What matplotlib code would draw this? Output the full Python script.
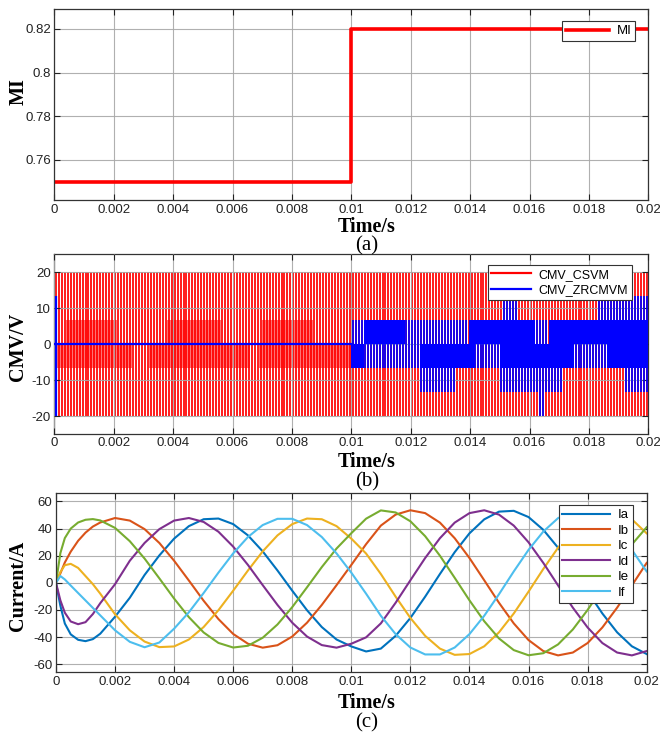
import matplotlib
matplotlib.use('Agg')
import matplotlib.pyplot as plt
import numpy as np
from matplotlib.lines import Line2D

# ---- (a) modulation index ----
mi_time = [0, 0.01, 0.02]
mi_value = [0.75, 0.82, 0.82]

# ---- (b) common-mode voltage (times in ms, levels in V) ----
sw_period = 1e-4
csvm_peak = 20
csvm_dense_upper = [(0.4, 2.1), (3.8, 5.6), (7.0, 8.7)]
csvm_dense_lower = [(0.1, 2.6), (3.2, 6.6), (6.9, 10.1)]
cmv_inner = 6.67
zr_zero_until = 10.05
zr_spike = (0.07, -20, 13.33)
zr_solid = [(10.0, 10.42, -6.67, 0), (10.42, 11.82, 0, 6.67), (12.32, 14.15, -6.67, 0),
            (13.95, 16.2, 0, 6.67), (15.02, 17.49, -6.67, 0), (16.64, 20.0, 0, 6.67),
            (18.6, 20.0, -6.67, 0)]
zr_switch = [(10.05, 10.42, 0, 6.67), (10.42, 12.32, -6.67, 0), (11.82, 13.95, 0, 6.67),
             (12.32, 13.48, -13.33, -6.67), (14.15, 15.02, -6.67, 0), (15.07, 15.6, 6.67, 13.33),
             (15.02, 17.15, -13.33, -6.67), (16.2, 16.64, 0, 6.67), (16.3, 16.55, -20, -13.33),
             (17.49, 18.6, -6.67, 0), (18.33, 20.0, 6.67, 13.33), (19.17, 20.0, -13.33, -6.67)]

# ---- (c) phase currents ----
cur_t_ms = [0, 0.15, 0.3, 0.5, 0.75, 1.0, 1.25, 1.5, 2.0, 2.5, 3.0, 3.5, 4.0, 4.5, 5.0, 5.5,
            6.0, 6.5, 7.0, 7.5, 8.0, 8.5, 9.0, 9.5, 10.0, 10.5, 11.0, 11.5, 12.0, 12.5, 13.0,
            13.5, 14.0, 14.5, 15.0, 15.5, 16.0, 16.5, 17.0, 17.5, 18.0, 18.5, 19.0, 19.5, 20.0]
ia = [0, -17, -30, -38, -42, -43, -41.5, -37.5, -25, -11, 5.8, 20.2, 32.6, 41.8, 46.9, 47.4,
      43.3, 35.0, 23.2, 9.1, -5.8, -20.2, -32.6, -41.8, -46.9, -50.6, -48.5, -39.1, -25.9, -10.2,
      6.5, 22.6, 36.5, 46.8, 52.5, 53.1, 48.5, 39.1, 25.9, 10.2, -6.5, -22.6, -36.5, -46.8, -52.5]
ib = [0, 7, 15, 23, 31, 37, 41.5, 44.5, 47.8, 45.9, 39.6, 29.4, 16.3, 1.7, -13.2, -26.7,
      -37.7, -44.9, -47.8, -46.0, -39.6, -29.4, -16.3, -1.7, 13.2, 28.5, 42.2, 50.3, 53.5, 51.4,
      44.4, 32.9, 18.3, 1.9, -14.7, -29.9, -42.2, -50.3, -53.5, -51.4, -44.4, -32.9, -18.3, -1.9, 14.7]
ic = [0, 8, 13, 14, 11, 5, -1, -8, -23.2, -35.0, -43.3, -47.4, -46.9, -41.8, -32.6, -20.2,
      -5.8, 9.1, 23.2, 35.0, 43.3, 47.4, 46.9, 41.8, 32.6, 21.6, 6.5, -10.2, -25.9, -39.1,
      -48.5, -53.1, -52.5, -46.8, -36.5, -22.6, -6.5, 10.2, 25.9, 39.1, 48.5, 53.1, 52.5, 46.8, 36.5]
id_ = [0, -13, -22, -28.5, -30.5, -29, -23, -15, -1, 16.3, 29.4, 39.6, 45.9, 47.8, 44.9, 37.7,
       26.7, 13.2, -1.7, -16.3, -29.4, -39.6, -45.9, -47.8, -44.9, -40.2, -29.9, -14.7, 1.9, 18.3,
       32.9, 44.4, 51.4, 53.5, 50.3, 42.2, 29.9, 14.7, -1.9, -18.3, -32.9, -44.4, -51.4, -53.5, -50.3]
ie = [0, 22, 33, 40, 44.5, 46.5, 47, 46, 40.5, 30.7, 17.9, 3.3, -11.6, -25.3, -36.6, -44.3,
      -47.7, -46.4, -40.5, -30.7, -17.9, -3.3, 11.6, 25.3, 36.6, 47.3, 53.4, 51.9, 45.4, 34.4,
      20.0, 3.7, -12.9, -28.3, -41.0, -49.6, -53.4, -51.9, -45.4, -34.4, -20.0, -3.7, 12.9, 28.3, 41.0]
if_ = [0, 5, 2.5, -2, -7.5, -13, -18.5, -24, -35, -43.5, -47.5, -44, -33.8, -21.7, -7.5, 7.5,
       21.7, 33.8, 42.6, 47.2, 47.2, 42.6, 33.8, 21.7, 7.5, -8.0, -24.3, -37.8, -47.7, -52.8,
       -52.8, -47.7, -37.8, -24.3, -8.4, 8.4, 24.3, 37.8, 47.7, 52.8, 52.8, 47.7, 37.8, 24.3, 8.4]
cur_names = ['Ia', 'Ib', 'Ic', 'Id', 'Ie', 'If']
cur_colors = ['#0072BD', '#D95319', '#EDB120', '#7E2F8E', '#77AC30', '#4DBEEE']

xtick_vals = [0, 0.002, 0.004, 0.006, 0.008, 0.01, 0.012, 0.014, 0.016, 0.018, 0.02]
xtick_labels = ['0', '0.002', '0.004', '0.006', '0.008', '0.01', '0.012', '0.014', '0.016', '0.018', '0.02']

plt.rcParams['font.family'] = ['Liberation Sans', 'DejaVu Sans']
SERIF = ['Liberation Serif', 'DejaVu Serif']


def style_axes(ax, yticks, ylabels, ylim, grid_on_top=False):
    ax.set_xlim(0, 0.02)
    ax.set_ylim(*ylim)
    ax.set_xticks(xtick_vals, xtick_labels)
    ax.set_yticks(yticks, ylabels)
    ax.grid(True, color='#a8a8a8', lw=0.8, alpha=0.9)
    ax.set_axisbelow(not grid_on_top)
    ax.tick_params(direction='in', top=True, right=True, length=4, width=0.8,
                   labelsize=9.5, pad=2.5, colors='#222222')
    for s in ax.spines.values():
        s.set_color('#333333')
        s.set_linewidth(0.9)


def legend(ax, handles, anchor, fs, hl):
    leg = ax.legend(handles=handles, loc='upper right', bbox_to_anchor=anchor,
                    borderaxespad=0, fancybox=False, edgecolor='#333333', framealpha=1,
                    fontsize=fs, handlelength=hl, borderpad=0.3, handletextpad=0.6,
                    labelspacing=0.25)
    leg.get_frame().set_linewidth(0.8)
    leg.set_zorder(10)
    return leg


fig = plt.figure(figsize=(6.6, 7.34), dpi=100)
ax_a = fig.add_axes([0.0823, 0.7271, 0.900, 0.2602])
ax_b = fig.add_axes([0.0823, 0.4087, 0.900, 0.2452])
ax_c = fig.add_axes([0.0848, 0.0840, 0.895, 0.2439])

# (a)
ax_a.step(mi_time, mi_value, where='post', color='red', lw=2.6)
style_axes(ax_a, [0.76, 0.78, 0.8, 0.82], ['0.76', '0.78', '0.8', '0.82'], (0.7415, 0.829))
legend(ax_a, [Line2D([], [], color='red', lw=2.6, label='MI')], (0.978, 0.939), 9.5, 3.2)

# (b)
pulses = np.arange(sw_period / 2, 0.02, sw_period)
ax_b.vlines(pulses, -csvm_peak, csvm_peak, colors='red', lw=1.25, zorder=2)
for t0, t1 in csvm_dense_upper:
    ax_b.fill_between([t0 / 1000, t1 / 1000], 0, cmv_inner, color='red', alpha=0.55, lw=0, zorder=2)
for t0, t1 in csvm_dense_lower:
    ax_b.fill_between([t0 / 1000, t1 / 1000], -cmv_inner, 0, color='red', alpha=0.55, lw=0, zorder=2)
ax_b.plot([0, zr_zero_until / 1000], [0, 0], color='blue', lw=1.6, zorder=3)
ax_b.vlines(zr_spike[0] / 1000, zr_spike[1], zr_spike[2], colors='blue', lw=1.6, zorder=3)
for t0, t1, lo, hi in zr_solid:
    ax_b.fill_between([t0 / 1000, t1 / 1000], lo, hi, color='blue', lw=0, zorder=3)
for t0, t1, lo, hi in zr_switch:
    sel = pulses[(pulses >= t0 / 1000) & (pulses <= t1 / 1000)]
    ax_b.vlines(sel, lo, hi, colors='blue', lw=1.25, zorder=3)
style_axes(ax_b, [-20, -10, 0, 10, 20], ['-20', '-10', '0', '10', '20'], (-25, 25), grid_on_top=True)
legend(ax_b, [Line2D([], [], color='red', lw=1.6, label='CMV_CSVM'),
              Line2D([], [], color='blue', lw=1.6, label='CMV_ZRCMVM')],
       (0.9726, 0.939), 9, 3.2)

# (c)
t_s = np.array(cur_t_ms) / 1000
for name, vals, col in zip(cur_names, [ia, ib, ic, id_, ie, if_], cur_colors):
    ax_c.plot(t_s, vals, color=col, lw=1.5, label=name)
style_axes(ax_c, [-60, -40, -20, 0, 20, 40, 60],
           ['-60', '-40', '-20', '0', '20', '40', '60'], (-66, 66))
legend(ax_c, ax_c.get_lines(), (0.9768, 0.9346), 9.5, 3.6)

# labels
for yc in [227, 462, 703]:
    fig.text(367 / 660, 1 - yc / 734, 'Time/s', ha='center', va='center',
             fontsize=14.5, fontweight='bold', family=SERIF)
for yc, lab in zip([246, 482, 723], ['(a)', '(b)', '(c)']):
    fig.text(367 / 660, 1 - yc / 734, lab, ha='center', va='center', fontsize=15, family=SERIF)
for yc, lab in zip([92, 347, 586], ['MI', 'CMV/V', 'Current/A']):
    fig.text(18.5 / 660, 1 - yc / 734, lab, ha='center', va='center', rotation=90,
             fontsize=14.5, fontweight='bold', family=SERIF)

fig.savefig('out.png', dpi=100)
